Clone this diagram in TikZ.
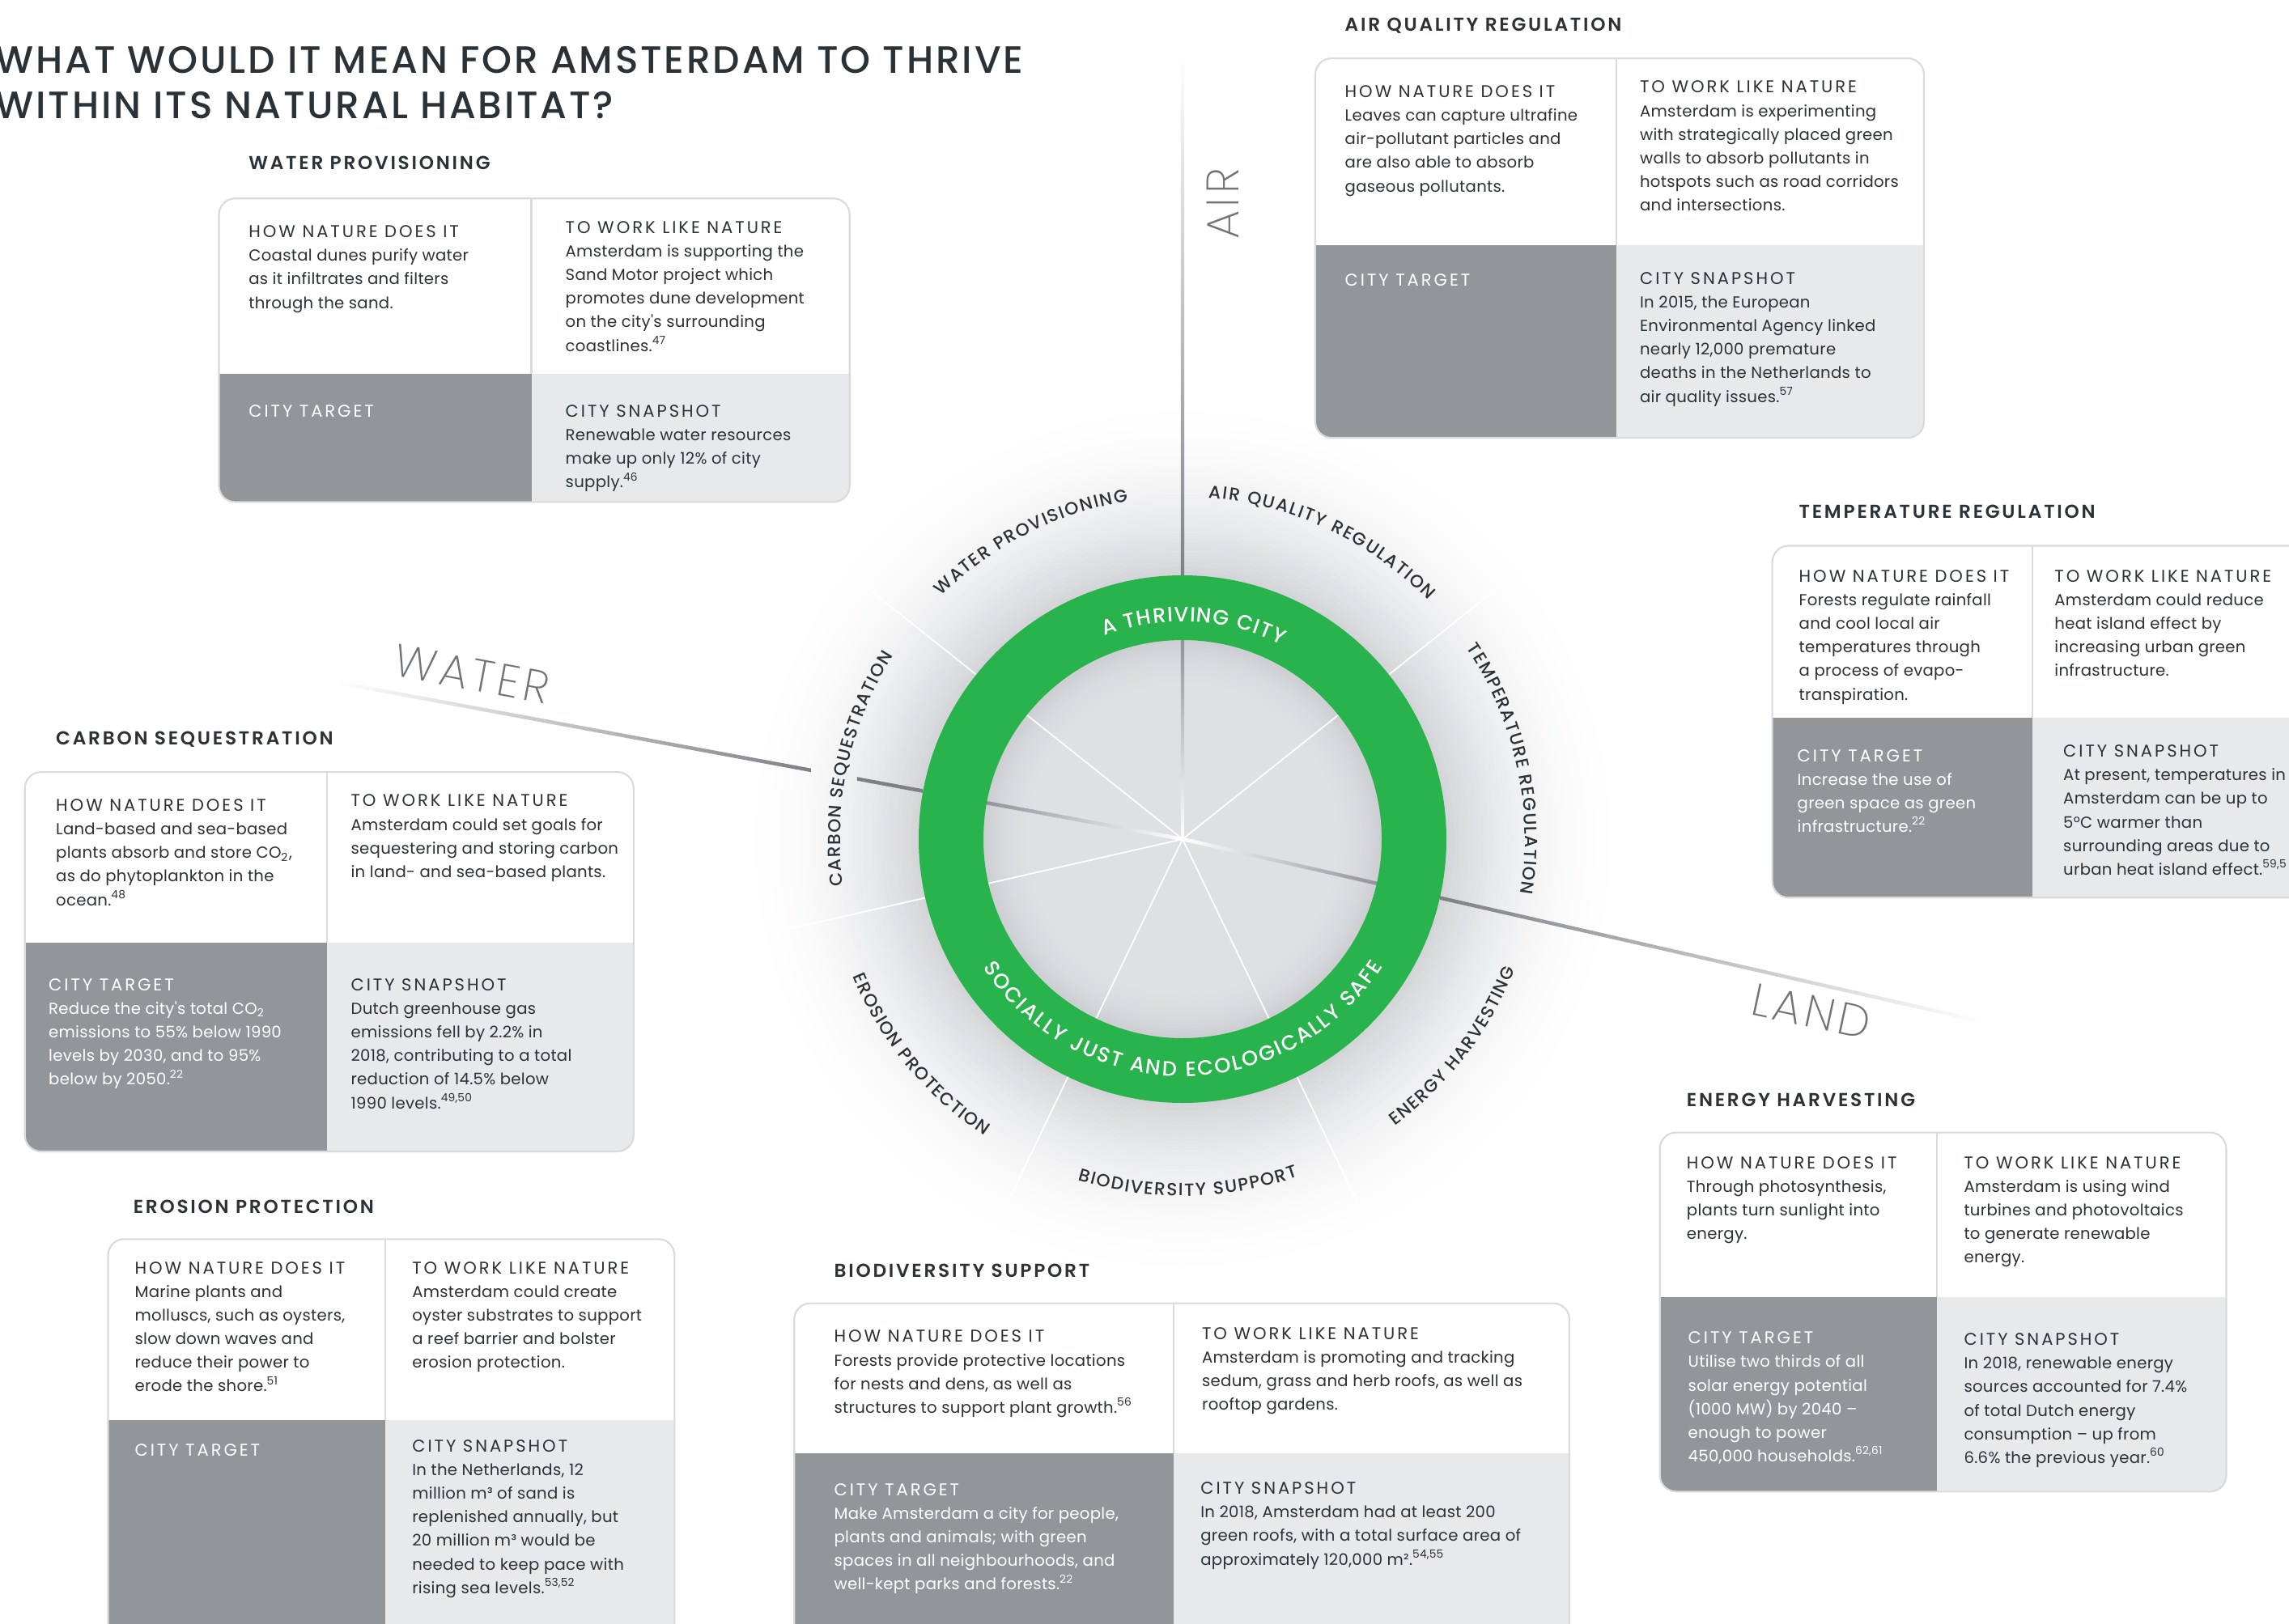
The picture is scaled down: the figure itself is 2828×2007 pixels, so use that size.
\documentclass[tikz,border=0pt]{standalone}
\usepackage{fontspec}
\usetikzlibrary{calc,decorations.text}

\setmainfont{Poppins}
\newfontfamily\bodyfont{Poppins}[LetterSpace=1.5]
\newfontfamily\headfont{Poppins}[LetterSpace=14]
\IfFontExistsTF{Poppins SemiBold}
  {\newfontfamily\sectfont{Poppins SemiBold}[LetterSpace=12]}
  {\newfontfamily\sectfont{Poppins}[LetterSpace=12,FakeBold=2]}
\IfFontExistsTF{Poppins Medium}
  {\newfontfamily\titlefont{Poppins Medium}[LetterSpace=6]
   \newfontfamily\ringfam{Poppins Medium}}
  {\newfontfamily\titlefont{Poppins}[LetterSpace=6]
   \newfontfamily\ringfam{Poppins}}
\IfFontExistsTF{Poppins ExtraLight}
  {\newfontfamily\axisfont{Poppins ExtraLight}[LetterSpace=8]}
  {\IfFontExistsTF{Poppins Thin}
    {\newfontfamily\axisfont{Poppins Thin}[LetterSpace=8]}
    {\IfFontExistsTF{Poppins Light}
      {\newfontfamily\axisfont{Poppins Light}[LetterSpace=8]}
      {\newfontfamily\axisfont{Poppins}[LetterSpace=8]}}}

\definecolor{ink}{HTML}{2B3237}
\definecolor{targetgray}{HTML}{939699}
\definecolor{snapgray}{HTML}{E8E9EB}
\definecolor{boxline}{HTML}{D8DADC}
\definecolor{ringgreen}{HTML}{29B34C}
\definecolor{axisgray}{HTML}{7D8186}
\definecolor{axislabel}{HTML}{6F7479}
\definecolor{halo}{HTML}{D3D5D8}
\definecolor{diskedge}{HTML}{CDCFD2}
\definecolor{diskmid}{HTML}{DFE0E2}

\newcommand{\ringtext}{\ringfam\fontsize{6.2}{7}\selectfont}
\newcommand{\innertext}{\ringfam\fontsize{7.3}{8}\selectfont}
\newcommand{\cellhead}{\headfont\fontsize{6}{8.3}\selectfont}
\newcommand{\refno}[1]{\textsuperscript{#1}}

\tikzstyle{celltext}=[anchor=north west,inner sep=0pt,align=left,text=ink,font=\bodyfont\fontsize{5.6}{8.3}\selectfont]
\tikzstyle{targettext}=[celltext,text=white]
\tikzstyle{boxtitle}=[anchor=base west,inner sep=0pt,text=ink,font=\sectfont\fontsize{6.6}{7.5}\selectfont]
\tikzstyle{bigtitle}=[anchor=north west,inner sep=0pt,align=left,text=ink,font=\titlefont\fontsize{13.4}{15.9}\selectfont]
\tikzstyle{axisname}=[inner sep=0pt,text=axislabel,font=\axisfont\fontsize{16}{18}\selectfont]
\tikzstyle{boxframe}=[draw=boxline,line width=0.6pt,rounded corners=2mm]
\tikzstyle{divider}=[boxline,line width=0.6pt]
\tikzstyle{spoke}=[white,line width=0.5pt]

\begin{document}
\begin{tikzpicture}[x=0.1mm,y=0.1mm]
	\useasboundingbox (0,0) rectangle (2828,-2007);
	\clip (0,0) rectangle (2828,-2007);
	\fill[white] (0,0) rectangle (2828,-2007);

	\coordinate (ctr) at (1461,-1037);

	% halo and inner disc
	\foreach \r in {552,546,...,330} {
		\pgfmathsetmacro{\k}{100*((552-\r)/222)^2}
		\fill[halo!\k] (ctr) circle[radius=\r];
	}
	\foreach \r in {246,242,...,186} {
		\pgfmathsetmacro{\k}{100*((\r-186)/60)^2}
		\fill[diskedge!\k!diskmid] (ctr) circle[radius=\r];
	}
	\foreach \a in {0,...,6}
		\draw[spoke] (ctr) -- ++({90-\a*360/7}:550);

	% AIR axis
	\shade[bottom color=white,top color=axisgray!85] ($(ctr)+(-2.2,0)$) rectangle ($(ctr)+(2.2,246)$);
	\shade[bottom color=axisgray,middle color=axisgray!85,top color=white] ($(ctr)+(-2.2,326)$) rectangle ($(ctr)+(2.2,967)$);
	% WATER axis
	\shade[left color=axisgray!85,right color=white] ($(ctr)+(169.5:246)+(0,2.3)$) -- ($(ctr)+(0,2.3)$) -- ($(ctr)+(0,-2.3)$) -- ($(ctr)+(169.5:246)+(0,-2.3)$) -- cycle;
	\fill[axisgray] ($(ctr)+(169.5:409)+(0,2.3)$) -- ($(ctr)+(169.5:326)+(0,2.3)$) -- ($(ctr)+(169.5:326)+(0,-2.3)$) -- ($(ctr)+(169.5:409)+(0,-2.3)$) -- cycle;
	\shade[left color=white,middle color=axisgray!80,right color=axisgray] ($(ctr)+(169.5:1064)+(0,2.3)$) -- ($(ctr)+(169.5:467)+(0,2.3)$) -- ($(ctr)+(169.5:467)+(0,-2.3)$) -- ($(ctr)+(169.5:1064)+(0,-2.3)$) -- cycle;
	% LAND axis
	\shade[left color=white,right color=axisgray!85] ($(ctr)+(0,2.3)$) -- ($(ctr)+(-12.857:246)+(0,2.3)$) -- ($(ctr)+(-12.857:246)+(0,-2.3)$) -- ($(ctr)+(0,-2.3)$) -- cycle;
	\shade[left color=axisgray,middle color=axisgray!75,right color=white] ($(ctr)+(-12.857:326)+(0,2.3)$) -- ($(ctr)+(-12.857:1015)+(0,2.3)$) -- ($(ctr)+(-12.857:1015)+(0,-2.3)$) -- ($(ctr)+(-12.857:326)+(0,-2.3)$) -- cycle;

	% ring
	\draw[ringgreen,line width=8mm] (ctr) circle[radius=286];
	\path[shift={(ctr)},decorate,decoration={text along path,text color=white,text align=fit to path,text={|\innertext|A THRIVING CITY}}] (111:269) arc[start angle=111,end angle=63,radius=269];
	\path[shift={(ctr)},decorate,decoration={text along path,text color=white,text align=fit to path,text={|\innertext|SOCIALLY JUST AND ECOLOGICALLY SAFE}}] (212.8:293) arc[start angle=212.8,end angle=327.6,radius=293];

	% sector labels
	\path[shift={(ctr)},decorate,decoration={text along path,text color=ink,text align=fit to path,text={|\ringtext|WATER PROVISIONING}}] (134.8:423) arc[start angle=134.8,end angle=99.1,radius=423];
	\path[shift={(ctr)},decorate,decoration={text along path,text color=ink,text align=fit to path,text={|\ringtext|AIR QUALITY REGULATION}}] (85.7:423) arc[start angle=85.7,end angle=44.2,radius=423];
	\path[shift={(ctr)},decorate,decoration={text along path,text color=ink,text align=fit to path,text={|\ringtext|TEMPERATURE REGULATION}}] (34:423) arc[start angle=34,end angle=-9.2,radius=423];
	\path[shift={(ctr)},decorate,decoration={text along path,text color=ink,text align=fit to path,text={|\ringtext|CARBON SEQUESTRATION}}] (187.8:423) arc[start angle=187.8,end angle=147.6,radius=423];
	\path[shift={(ctr)},decorate,decoration={text along path,text color=ink,text align=fit to path,text={|\ringtext|EROSION PROTECTION}}] (202.6:441) arc[start angle=202.6,end angle=236.3,radius=441];
	\path[shift={(ctr)},decorate,decoration={text along path,text color=ink,text align=fit to path,text={|\ringtext|BIODIVERSITY SUPPORT}}] (252.9:441) arc[start angle=252.9,end angle=289,radius=441];
	\path[shift={(ctr)},decorate,decoration={text along path,text color=ink,text align=fit to path,text={|\ringtext|ENERGY HARVESTING}}] (306.5:441) arc[start angle=306.5,end angle=338.6,radius=441];

	\node[axisname,rotate=90] (air) at (1511,-252) {AIR};
	\node[axisname,rotate=-10.5] (water) at (583,-833) {WATER};
	\node[axisname,rotate=-12] (land) at (2238,-1250) {LAND};

	\node[bigtitle] (title) at (-6,-57) {WHAT WOULD IT MEAN FOR AMSTERDAM TO THRIVE\\WITHIN ITS NATURAL HABITAT?};

	% water provisioning
	\node[boxtitle] (wptitle) at (306.6,-209.5) {WATER PROVISIONING};
	\begin{scope}
		\clip[rounded corners=2mm] (270.5,-245.3) rectangle (1049.7,-620.4);
		\fill[white] (270.5,-245.3) rectangle (1049.7,-461.7);
		\fill[targetgray] (270.5,-461.7) rectangle (656.5,-620.4);
		\fill[snapgray] (656.5,-461.7) rectangle (1049.7,-620.4);
	\end{scope}
	\draw[divider] (656.5,-245.3) -- (656.5,-461.7);
	\draw[boxframe] (270.5,-245.3) rectangle (1049.7,-620.4);
	\node[celltext] (wphow) at (306.6,-278) {{\cellhead HOW NATURE DOES IT}\\Coastal dunes purify water\\as it infiltrates and filters\\through the sand.};
	\node[celltext] (wpwork) at (698,-272.6) {{\cellhead TO WORK LIKE NATURE}\\Amsterdam is supporting the\\Sand Motor project which\\promotes dune development\\on the city's surrounding\\coastlines.\refno{47}};
	\node[targettext] (wptarget) at (306.6,-499.8) {{\cellhead CITY TARGET}};
	\node[celltext] (wpsnap) at (698,-499.8) {{\cellhead CITY SNAPSHOT}\\Renewable water resources\\make up only 12\% of city\\supply.\refno{46}};

	% air quality regulation
	\node[boxtitle] (aqtitle) at (1661,-38.2) {AIR QUALITY REGULATION};
	\begin{scope}
		\clip[rounded corners=2mm] (1625,-72.1) rectangle (2377,-541);
		\fill[white] (1625,-72.1) rectangle (2377,-303);
		\fill[targetgray] (1625,-303) rectangle (1996.6,-541);
		\fill[snapgray] (1996.6,-303) rectangle (2377,-541);
	\end{scope}
	\draw[divider] (1996.6,-72.1) -- (1996.6,-303);
	\draw[boxframe] (1625,-72.1) rectangle (2377,-541);
	\node[celltext] (aqhow) at (1661,-104.8) {{\cellhead HOW NATURE DOES IT}\\Leaves can capture ultrafine\\air-pollutant particles and\\are also able to absorb\\gaseous pollutants.};
	\node[celltext] (aqwork) at (2025.4,-99.4) {{\cellhead TO WORK LIKE NATURE}\\Amsterdam is experimenting\\with strategically placed green\\walls to absorb pollutants in\\hotspots such as road corridors\\and intersections.};
	\node[targettext] (aqtarget) at (1661,-337.5) {{\cellhead CITY TARGET}};
	\node[celltext] (aqsnap) at (2025.4,-335.7) {{\cellhead CITY SNAPSHOT}\\In 2015, the European\\Environmental Agency linked\\nearly 12,000 premature\\deaths in the Netherlands to\\air quality issues.\refno{57}};

	% temperature regulation
	\node[boxtitle] (trtitle) at (2222,-640.5) {TEMPERATURE REGULATION};
	\begin{scope}
		\clip[rounded corners=2mm] (2189.6,-674.5) rectangle (2950,-1109.2);
		\fill[white] (2189.6,-674.5) rectangle (2950,-887.4);
		\fill[targetgray] (2189.6,-887.4) rectangle (2510.6,-1109.2);
		\fill[snapgray] (2510.6,-887.4) rectangle (2950,-1109.2);
	\end{scope}
	\draw[divider] (2510.6,-674.5) -- (2510.6,-887.4);
	\draw[boxframe] (2189.6,-674.5) rectangle (2950,-1109.2);
	\node[celltext] (trhow) at (2222,-703.6) {{\cellhead HOW NATURE DOES IT}\\Forests regulate rainfall\\and cool local air\\temperatures through\\a process of evapo-\\transpiration.};
	\node[celltext] (trwork) at (2537.7,-703.6) {{\cellhead TO WORK LIKE NATURE}\\Amsterdam could reduce\\heat island effect by\\increasing urban green\\infrastructure.};
	\node[targettext] (trtarget) at (2220,-925.5) {{\cellhead CITY TARGET}\\Increase the use of\\green space as green\\infrastructure.\refno{22}};
	\node[celltext] (trsnap) at (2548.5,-920) {{\cellhead CITY SNAPSHOT}\\At present, temperatures in\\Amsterdam can be up to\\5°C warmer than\\surrounding areas due to\\urban heat island effect.\refno{59,5}};

	% carbon sequestration
	\node[boxtitle] (cstitle) at (68.5,-920.1) {CARBON SEQUESTRATION};
	\begin{scope}
		\clip[rounded corners=2mm] (30.7,-954.1) rectangle (782.8,-1423);
		\fill[white] (30.7,-954.1) rectangle (782.8,-1165.1);
		\fill[targetgray] (30.7,-1165.1) rectangle (404,-1423);
		\fill[snapgray] (404,-1165.1) rectangle (782.8,-1423);
	\end{scope}
	\draw[divider] (404,-954.1) -- (404,-1165.1);
	\draw[boxframe] (30.7,-954.1) rectangle (782.8,-1423);
	\node[celltext] (cshow) at (68.5,-986.8) {{\cellhead HOW NATURE DOES IT}\\Land-based and sea-based\\plants absorb and store CO\textsubscript{2},\\as do phytoplankton in the\\ocean.\refno{48}};
	\node[celltext] (cswork) at (432.9,-981.4) {{\cellhead TO WORK LIKE NATURE}\\Amsterdam could set goals for\\sequestering and storing carbon\\in land- and sea-based plants.};
	\node[targettext] (cstarget) at (59.5,-1208.6) {{\cellhead CITY TARGET}\\Reduce the city's total CO\textsubscript{2}\\emissions to 55\% below 1990\\levels by 2030, and to 95\%\\below by 2050.\refno{22}};
	\node[celltext] (cssnap) at (432.9,-1208.6) {{\cellhead CITY SNAPSHOT}\\Dutch greenhouse gas\\emissions fell by 2.2\% in\\2018, contributing to a total\\reduction of 14.5\% below\\1990 levels.\refno{49,50}};

	% erosion protection
	\node[boxtitle] (eptitle) at (164.1,-1499.1) {EROSION PROTECTION};
	\begin{scope}
		\clip[rounded corners=2mm] (133.5,-1531.3) rectangle (833.3,-2060);
		\fill[white] (133.5,-1531.3) rectangle (833.3,-1754.9);
		\fill[targetgray] (133.5,-1754.9) rectangle (476.2,-2060);
		\fill[snapgray] (476.2,-1754.9) rectangle (833.3,-2060);
	\end{scope}
	\draw[divider] (476.2,-1531.3) -- (476.2,-1754.9);
	\draw[boxframe] (133.5,-1531.3) rectangle (833.3,-2060);
	\node[celltext] (ephow) at (165.9,-1558.5) {{\cellhead HOW NATURE DOES IT}\\Marine plants and\\molluscs, such as oysters,\\slow down waves and\\reduce their power to\\erode the shore.\refno{51}};
	\node[celltext] (epwork) at (508.6,-1558.5) {{\cellhead TO WORK LIKE NATURE}\\Amsterdam could create\\oyster substrates to support\\a reef barrier and bolster\\erosion protection.};
	\node[targettext] (eptarget) at (165.9,-1784) {{\cellhead CITY TARGET}};
	\node[celltext] (epsnap) at (508.6,-1778.6) {{\cellhead CITY SNAPSHOT}\\In the Netherlands, 12\\million m³ of sand is\\replenished annually, but\\20 million m³ would be\\needed to keep pace with\\rising sea levels.\refno{53,52}};

	% biodiversity support
	\node[boxtitle] (bstitle) at (1029.9,-1578.5) {BIODIVERSITY SUPPORT};
	\begin{scope}
		\clip[rounded corners=2mm] (981.2,-1610.6) rectangle (1938.9,-2060);
		\fill[white] (981.2,-1610.6) rectangle (1938.9,-1796.4);
		\fill[targetgray] (981.2,-1796.4) rectangle (1450,-2060);
		\fill[snapgray] (1450,-1796.4) rectangle (1938.9,-2060);
	\end{scope}
	\draw[divider] (1450,-1610.6) -- (1450,-1796.4);
	\draw[boxframe] (981.2,-1610.6) rectangle (1938.9,-2060);
	\node[celltext] (bshow) at (1029.9,-1643.3) {{\cellhead HOW NATURE DOES IT}\\Forests provide protective locations\\for nests and dens, as well as\\structures to support plant growth.\refno{56}};
	\node[celltext] (bswork) at (1484.4,-1639.7) {{\cellhead TO WORK LIKE NATURE}\\Amsterdam is promoting and tracking\\sedum, grass and herb roofs, as well as\\rooftop gardens.};
	\node[targettext] (bstarget) at (1029.9,-1832.7) {{\cellhead CITY TARGET}\\Make Amsterdam a city for people,\\plants and animals; with green\\spaces in all neighbourhoods, and\\well-kept parks and forests.\refno{22}};
	\node[celltext] (bssnap) at (1482.6,-1830.9) {{\cellhead CITY SNAPSHOT}\\In 2018, Amsterdam had at least 200\\green roofs, with a total surface area of\\approximately 120,000 m².\refno{54,55}};

	% energy harvesting
	\node[boxtitle] (ehtitle) at (2083.2,-1367.4) {ENERGY HARVESTING};
	\begin{scope}
		\clip[rounded corners=2mm] (2050.7,-1399.6) rectangle (2750.5,-1843.3);
		\fill[white] (2050.7,-1399.6) rectangle (2750.5,-1603.4);
		\fill[targetgray] (2050.7,-1603.4) rectangle (2393.4,-1843.3);
		\fill[snapgray] (2393.4,-1603.4) rectangle (2750.5,-1843.3);
	\end{scope}
	\draw[divider] (2393.4,-1399.6) -- (2393.4,-1603.4);
	\draw[boxframe] (2050.7,-1399.6) rectangle (2750.5,-1843.3);
	\node[celltext] (ehhow) at (2083.2,-1428.7) {{\cellhead HOW NATURE DOES IT}\\Through photosynthesis,\\plants turn sunlight into\\energy.};
	\node[celltext] (ehwork) at (2425.8,-1428.7) {{\cellhead TO WORK LIKE NATURE}\\Amsterdam is using wind\\turbines and photovoltaics\\to generate renewable\\energy.};
	\node[targettext] (ehtarget) at (2085,-1645.1) {{\cellhead CITY TARGET}\\Utilise two thirds of all\\solar energy potential\\(1000 MW) by 2040 –\\enough to power\\450,000 households.\refno{62,61}};
	\node[celltext] (ehsnap) at (2425.8,-1646.9) {{\cellhead CITY SNAPSHOT}\\In 2018, renewable energy\\sources accounted for 7.4\%\\of total Dutch energy\\consumption – up from\\6.6\% the previous year.\refno{60}};

\end{tikzpicture}
\end{document}
